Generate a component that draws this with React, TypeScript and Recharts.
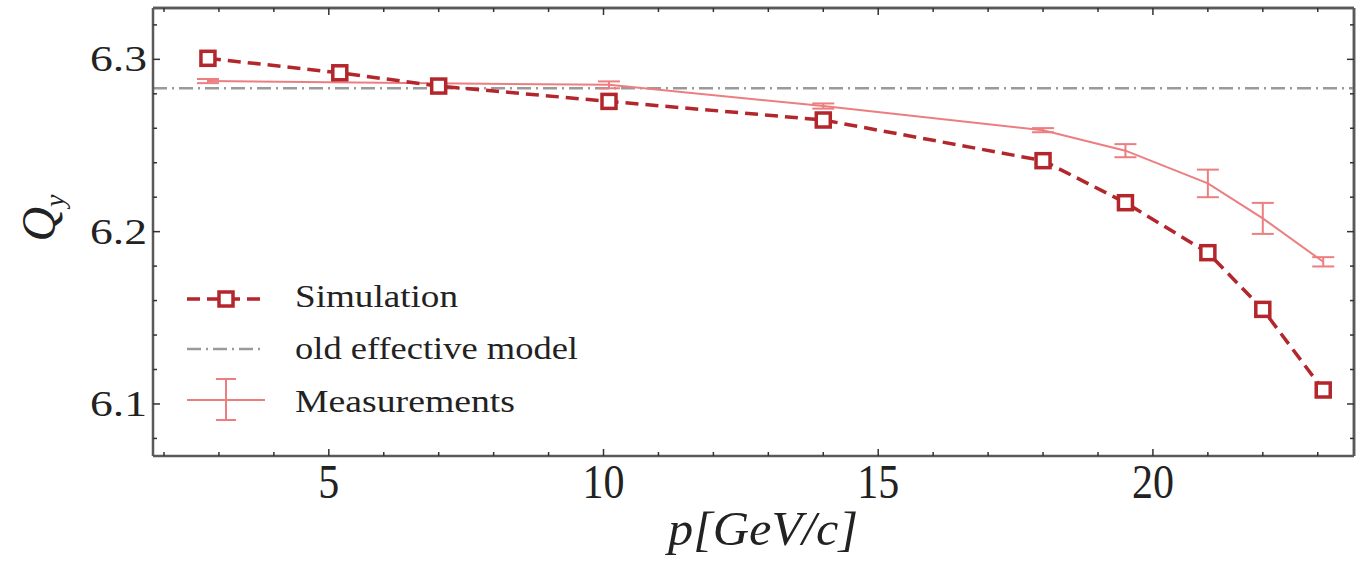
import { ComposedChart, Line, XAxis, YAxis, ReferenceLine, ErrorBar, Legend } from 'recharts'

// momentum p [GeV/c] and tune Q_y
const simP = [2.8, 5.2, 7.0, 10.1, 14.0, 18.0, 19.5, 21.0, 22.0, 23.1]
const simQ = [6.3006, 6.2922, 6.2845, 6.2756, 6.2648, 6.2412, 6.2168, 6.1878, 6.1549, 6.1081]
const measP = [2.8, 10.1, 14.0, 18.0, 19.5, 21.0, 22.0, 23.1]
const measQ = [6.2874, 6.2852, 6.2729, 6.2589, 6.247, 6.228, 6.2077, 6.1825]
const measErr = [0.0012, 0.002, 0.0015, 0.0012, 0.0038, 0.008, 0.009, 0.0027]
const oldModelQ = 6.2832

const xMajor = [5, 10, 15, 20]
const xMinor = [2, 3, 4, 5, 6, 7, 8, 9, 10, 11, 12, 13, 14, 15, 16, 17, 18, 19, 20, 21, 22, 23]
const yMajor = [6.1, 6.2, 6.3]
const yMinor = [6.08, 6.1, 6.12, 6.14, 6.16, 6.18, 6.2, 6.22, 6.24, 6.26, 6.28, 6.3, 6.32]
const xLabels: Record<number, string> = { 5: '5', 10: '10', 15: '15', 20: '20' }
const yLabels: Record<number, string> = { 6.1: '6.1', 6.2: '6.2', 6.3: '6.3' }

const simData = simP.map((p, i) => ({ p, q: simQ[i] }))
const measData = measP.map((p, i) => ({ p, q: measQ[i], err: measErr[i] }))

const X_DOMAIN = [1.8, 23.66]
const Y_DOMAIN = [6.0698, 6.3298]

const SIM = '#b3262c'
const MEAS = '#ec7e80'
const GREY = '#9a9a9a'
const FRAME = '#5a5a5a'
const SERIF = "'Liberation Serif', 'Times New Roman', Times, serif"

const isMajor = (list: number[], v: number) => list.some(m => Math.abs(m - v) < 1e-6)

function BottomTick({ x, y, payload }: any) {
  const major = isMajor(xMajor, payload.value)
  const label = xLabels[payload.value]
  return (
    <g>
      <line x1={x} x2={x} y1={y} y2={y - (major ? 7 : 4)} stroke="#333" strokeWidth={1.5} />
      {major && (
        <text x={x} y={y + 42} textAnchor="middle" fontFamily={SERIF} fontSize={48} fill="#222"
          textLength={label.length * 21} lengthAdjust="spacingAndGlyphs">{label}</text>
      )}
    </g>
  )
}

function TopTick({ x, y, payload }: any) {
  const major = isMajor(xMajor, payload.value)
  return <line x1={x} x2={x} y1={y} y2={y + (major ? 7 : 4)} stroke="#333" strokeWidth={1.5} />
}

function LeftTick({ x, y, payload }: any) {
  const major = isMajor(yMajor, payload.value)
  const key = Object.keys(yLabels).find(k => Math.abs(Number(k) - payload.value) < 1e-6)
  return (
    <g>
      <line x1={x} x2={x + (major ? 7 : 4)} y1={y} y2={y} stroke="#333" strokeWidth={1.5} />
      {major && key && (
        <text x={x - 6} y={y + 12} textAnchor="end" fontFamily={SERIF} fontSize={36} fill="#222"
          textLength={57} lengthAdjust="spacingAndGlyphs">{yLabels[Number(key)]}</text>
      )}
    </g>
  )
}

function RightTick({ x, y, payload }: any) {
  const major = isMajor(yMajor, payload.value)
  return <line x1={x} x2={x - (major ? 7 : 4)} y1={y} y2={y} stroke="#333" strokeWidth={1.5} />
}

function SquareDot({ cx, cy }: any) {
  if (cx == null || cy == null) return null
  return <rect x={cx - 7} y={cy - 7} width={14} height={14} fill="#fff" stroke={SIM} strokeWidth={3.5} />
}

function LegendBox() {
  return (
    <svg width={1366} height={562} style={{ position: 'absolute', left: 0, top: 0 }}>
      <line x1={187} x2={265} y1={299} y2={299} stroke={SIM} strokeWidth={3.5} strokeDasharray="13 7" />
      <rect x={219} y={292} width={14} height={14} fill="#fff" stroke={SIM} strokeWidth={3.5} />
      <text x={295} y={307} fontFamily={SERIF} fontSize={31} fill="#222" textLength={163} lengthAdjust="spacingAndGlyphs">Simulation</text>
      <line x1={187} x2={265} y1={349} y2={349} stroke={GREY} strokeWidth={2.5} strokeDasharray="14 5 2 5" />
      <text x={295} y={359} fontFamily={SERIF} fontSize={31} fill="#222" textLength={283} lengthAdjust="spacingAndGlyphs">old effective model</text>
      <line x1={187} x2={265} y1={400} y2={400} stroke={MEAS} strokeWidth={2} />
      <line x1={226} x2={226} y1={379} y2={420} stroke={MEAS} strokeWidth={2} />
      <line x1={216} x2={236} y1={379} y2={379} stroke={MEAS} strokeWidth={2} />
      <line x1={216} x2={236} y1={420} y2={420} stroke={MEAS} strokeWidth={2} />
      <text x={295} y={412} fontFamily={SERIF} fontSize={31} fill="#222" textLength={220} lengthAdjust="spacingAndGlyphs">Measurements</text>
    </svg>
  )
}

export default function App() {
  return (
    <div style={{ position: 'absolute', left: 0, top: 0, width: 1366, height: 562, background: '#fff' }}>
      <ComposedChart width={1366} height={562} margin={{ top: 7, right: 11, bottom: 0, left: 0 }}>
        <XAxis xAxisId="b" dataKey="p" type="number" domain={X_DOMAIN} ticks={xMinor} interval={0}
          height={106} tickSize={0} tickMargin={0} tick={<BottomTick />} tickLine={false}
          axisLine={{ stroke: FRAME, strokeWidth: 2.5 }} allowDataOverflow />
        <XAxis xAxisId="t" orientation="top" dataKey="p" type="number" domain={X_DOMAIN} ticks={xMinor} interval={0}
          height={1} tickSize={0} tickMargin={0} tick={<TopTick />} tickLine={false}
          axisLine={{ stroke: FRAME, strokeWidth: 2.5 }} allowDataOverflow />
        <YAxis yAxisId="l" type="number" domain={Y_DOMAIN} ticks={yMinor} interval={0}
          width={153} tickSize={0} tickMargin={0} tick={<LeftTick />} tickLine={false}
          axisLine={{ stroke: FRAME, strokeWidth: 2.5 }} allowDataOverflow />
        <YAxis yAxisId="r" orientation="right" type="number" domain={Y_DOMAIN} ticks={yMinor} interval={0}
          width={1} tickSize={0} tickMargin={0} tick={<RightTick />} tickLine={false}
          axisLine={{ stroke: FRAME, strokeWidth: 2.5 }} allowDataOverflow />
        <ReferenceLine xAxisId="b" yAxisId="l" y={Y_DOMAIN[1]} stroke={FRAME} strokeWidth={2.5} />
        <ReferenceLine xAxisId="b" yAxisId="l" x={X_DOMAIN[1]} stroke={FRAME} strokeWidth={2.5} />
        <ReferenceLine xAxisId="b" yAxisId="l" y={oldModelQ} stroke={GREY} strokeWidth={2.5} strokeDasharray="14 5 2 5" />
        <Line xAxisId="b" yAxisId="l" data={measData} dataKey="q" stroke={MEAS} strokeWidth={2} dot={false}
          isAnimationActive={false}>
          <ErrorBar dataKey="err" direction="y" width={11} stroke={MEAS} strokeWidth={2} />
        </Line>
        <Line xAxisId="b" yAxisId="l" data={simData} dataKey="q" stroke={SIM} strokeWidth={3.5} strokeDasharray="13 7"
          dot={<SquareDot />} isAnimationActive={false} />
        <Line xAxisId="t" yAxisId="r" data={simData} dataKey="q" stroke="none" dot={false} isAnimationActive={false} legendType="none" />
        <Legend verticalAlign="middle" align="center" layout="horizontal" content={() => <LegendBox />}
          wrapperStyle={{ position: 'absolute', left: 0, top: 0, width: 1366, height: 562, pointerEvents: 'none' }} />
      </ComposedChart>
      <svg width={1366} height={562} style={{ position: 'absolute', left: 0, top: 0, pointerEvents: 'none' }}>
        <text x={0} y={0} textAnchor="middle" fontFamily={SERIF} fontStyle="italic" fontSize={48} fill="#222"
          style={{ transform: 'translate(55px, 218px) rotate(-90deg)' }}>
          Q<tspan fontSize={28} dy={9}>y</tspan>
        </text>
        <text x={763} y={545} textAnchor="middle" fontFamily={SERIF} fontStyle="italic" fontSize={48} fill="#222"
          textLength={190} lengthAdjust="spacingAndGlyphs">p[GeV/c]</text>
      </svg>
    </div>
  )
}
